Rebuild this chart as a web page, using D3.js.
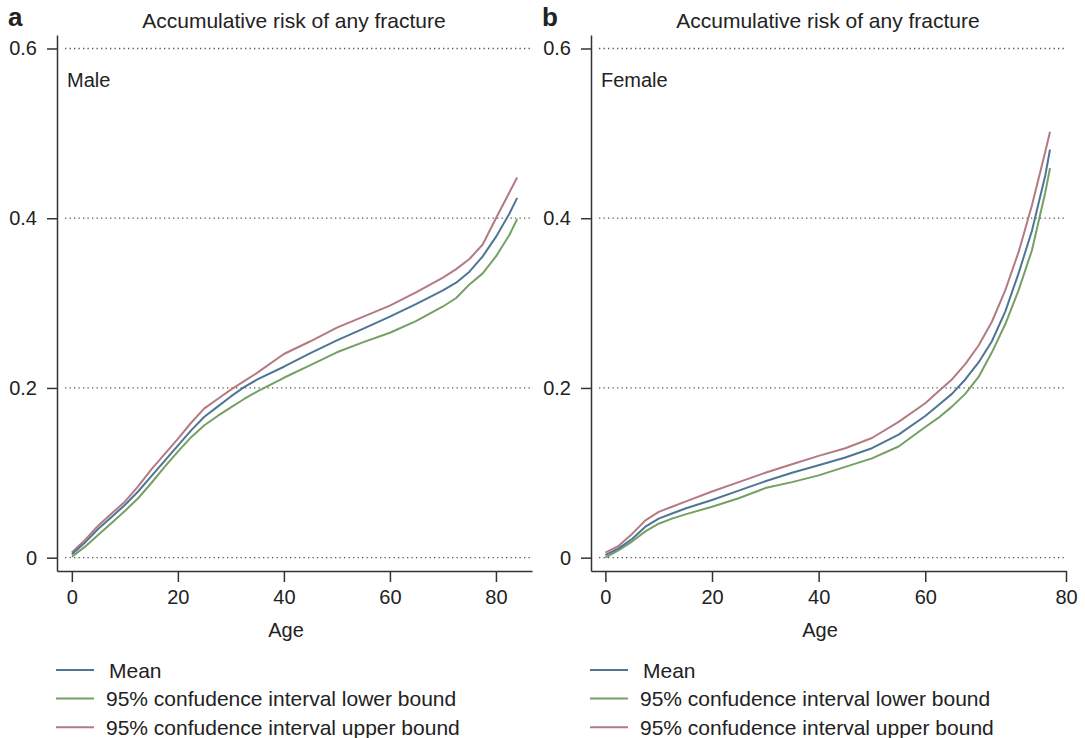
<!DOCTYPE html>
<html>
<head>
<meta charset="utf-8">
<script src="https://cdn.jsdelivr.net/npm/d3@7"></script>
<style>
  body { margin: 0; background: #fff; }
  svg text { font-family: "Liberation Sans", Arial, sans-serif; fill: #222; }
</style>
</head>
<body>
<script>
// values

var maleAge = [0, 2.5, 5, 7.5, 10, 12.5, 15, 17.5, 20, 22.5, 25, 27.5, 30, 32.5, 35, 40, 45, 50, 55, 60, 65, 70, 72.5, 75, 77.5, 80, 82.5, 84];
var maleMean = [0.004, 0.018, 0.034, 0.048, 0.062, 0.078, 0.096, 0.114, 0.132, 0.150, 0.166, 0.178, 0.190, 0.201, 0.210, 0.225, 0.241, 0.256, 0.270, 0.284, 0.299, 0.315, 0.324, 0.337, 0.355, 0.378, 0.405, 0.424];
var maleLower = [0.001, 0.013, 0.027, 0.041, 0.055, 0.070, 0.088, 0.107, 0.125, 0.142, 0.156, 0.167, 0.177, 0.187, 0.196, 0.212, 0.227, 0.242, 0.254, 0.265, 0.279, 0.296, 0.306, 0.322, 0.335, 0.355, 0.380, 0.399];
var maleUpper = [0.006, 0.021, 0.038, 0.052, 0.066, 0.084, 0.104, 0.122, 0.140, 0.159, 0.176, 0.187, 0.198, 0.208, 0.218, 0.240, 0.255, 0.271, 0.284, 0.297, 0.313, 0.330, 0.340, 0.352, 0.369, 0.400, 0.430, 0.448];

var femaleAge = [0, 2.5, 5, 7.5, 10, 12.5, 15, 20, 25, 30, 35, 40, 45, 50, 55, 60, 62.5, 65, 67.5, 70, 72.5, 75, 77.5, 80, 82.5, 83.4];
var femaleMean = [0.003, 0.011, 0.022, 0.0365, 0.046, 0.052, 0.058, 0.068, 0.079, 0.090, 0.100, 0.109, 0.118, 0.129, 0.145, 0.167, 0.180, 0.193, 0.210, 0.230, 0.255, 0.290, 0.335, 0.385, 0.450, 0.481];
var femaleLower = [0.000, 0.009, 0.019, 0.031, 0.040, 0.046, 0.051, 0.060, 0.070, 0.082, 0.089, 0.097, 0.107, 0.117, 0.131, 0.154, 0.165, 0.178, 0.193, 0.213, 0.242, 0.275, 0.315, 0.362, 0.430, 0.459];
var femaleUpper = [0.006, 0.014, 0.028, 0.044, 0.054, 0.060, 0.066, 0.078, 0.089, 0.100, 0.110, 0.120, 0.129, 0.141, 0.160, 0.182, 0.196, 0.210, 0.228, 0.250, 0.278, 0.315, 0.360, 0.415, 0.478, 0.502];

var yTicks = [0, 0.2, 0.4, 0.6];
var yTickLabels = ["0", "0.2", "0.4", "0.6"];
var maleXTicks = [0, 20, 40, 60, 80];
var femaleXTicks = [0, 20, 40, 60, 86.4];   // the "80" label sits at the axis end in panel b
var xTickLabels = ["0", "20", "40", "60", "80"];

var seriesNames = ["Mean", "95% confudence interval lower bound", "95% confudence interval upper bound"];
var seriesColors = ["#4f7596", "#75a064", "#b47a82"];

var svg = d3.select("body").append("svg")
    .attr("width", 1085)
    .attr("height", 738);

function drawPanel(dx, letter, sex, ages, series, xDomain, xTicks) {
    var g = svg.append("g").attr("transform", "translate(" + dx + ",0)");

    var x = d3.scaleLinear().domain(xDomain).range([57, 532]);
    var y = d3.scaleLinear().domain([-0.0157, 0.6159]).range([571, 35]);

    // dotted grid lines
    g.selectAll("line.grid").data(yTicks).enter().append("line")
        .attr("class", "grid")
        .attr("x1", 65).attr("x2", 530)
        .attr("y1", function(d) { return y(d); })
        .attr("y2", function(d) { return y(d); })
        .attr("stroke", "#555")
        .attr("stroke-width", 1.3)
        .attr("stroke-dasharray", "1.3,3.2");

    var yAxis = g.append("g")
        .attr("transform", "translate(57,0)")
        .call(d3.axisLeft(y).tickValues(yTicks)
            .tickFormat(function(d, i) { return yTickLabels[i]; })
            .tickSize(10).tickSizeOuter(0).tickPadding(10));

    var xAxis = g.append("g")
        .attr("transform", "translate(0,571)")
        .call(d3.axisBottom(x).tickValues(xTicks)
            .tickFormat(function(d, i) { return xTickLabels[i]; })
            .tickSize(11).tickSizeOuter(0).tickPadding(8));

    [yAxis, xAxis].forEach(function(a) {
        a.selectAll("path, line").attr("stroke", "#333").attr("stroke-width", 1.5);
        a.selectAll("text").style("font-size", "20px").attr("fill", "#222");
    });

    var line = d3.line()
        .x(function(d, i) { return x(ages[i]); })
        .y(function(d) { return y(d); });

    // draw upper, lower, mean (mean on top)
    [2, 1, 0].forEach(function(k) {
        g.append("path")
            .datum(series[k])
            .attr("d", line)
            .attr("fill", "none")
            .attr("stroke", seriesColors[k])
            .attr("stroke-width", 2)
            .attr("stroke-linejoin", "round");
    });

    g.append("text").attr("x", 8).attr("y", 26)
        .style("font-size", "26px").style("font-weight", "bold")
        .text(letter);

    g.append("text").attr("x", 294).attr("y", 28)
        .attr("text-anchor", "middle")
        .style("font-size", "21px")
        .text("Accumulative risk of any fracture");

    g.append("text").attr("x", 67).attr("y", 87)
        .style("font-size", "20px")
        .text(sex);

    g.append("text").attr("x", 286).attr("y", 637)
        .attr("text-anchor", "middle")
        .style("font-size", "20px")
        .text("Age");

    // legend
    var leg = g.selectAll("g.leg").data(seriesNames).enter().append("g")
        .attr("class", "leg")
        .attr("transform", function(d, i) { return "translate(0," + (670 + i * 28.6) + ")"; });
    leg.append("line")
        .attr("x1", 56).attr("x2", 94)
        .attr("stroke", function(d, i) { return seriesColors[i]; })
        .attr("stroke-width", 2);
    leg.append("text")
        .attr("x", function(d, i) { return i == 0 ? 109 : 106; })
        .attr("y", 7.5)
        .style("font-size", "21px")
        .text(function(d) { return d; });
}

drawPanel(0, "a", "Male", maleAge, [maleMean, maleLower, maleUpper], [-2.8, 86.8], maleXTicks);
drawPanel(534, "b", "Female", femaleAge, [femaleMean, femaleLower, femaleUpper], [-2.7, 86.4], femaleXTicks);
</script>
</body>
</html>
